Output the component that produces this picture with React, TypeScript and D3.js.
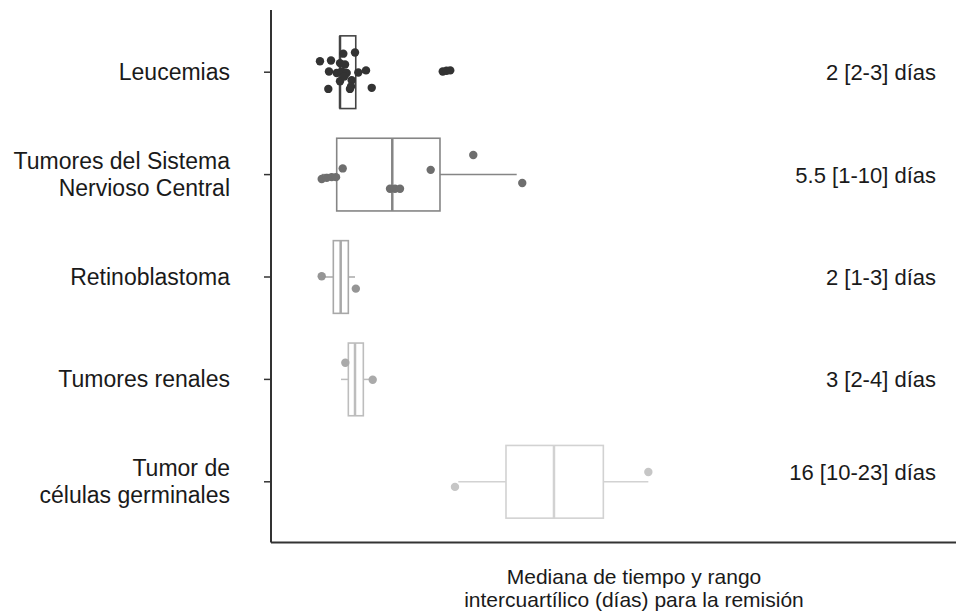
import React from "react";
import * as d3 from "d3";

// categories (top to bottom) and their labels
const categories = ["leu", "snc", "ret", "ren", "ger"];
const labelLines = [
  ["Leucemias"],
  ["Tumores del Sistema", "Nervioso Central"],
  ["Retinoblastoma"],
  ["Tumores renales"],
  ["Tumor de", "células germinales"],
];
const summaryText = [
  "2 [2-3] días",
  "5.5 [1-10] días",
  "2 [1-3] días",
  "3 [2-4] días",
  "16 [10-23] días",
];

// box statistics (días)
const q1 = [3.2, 2.76, 2.31, 4.31, 25.33];
const median = [3.2, 10.17, 3.29, 5.2, 31.73];
const q3 = [5.3, 16.53, 4.31, 6.31, 38.31];
const whiskerLo = [1.7, 0.76, 0.76, 3.33, 18.97];
const whiskerHi = [6.7, 26.76, 5.2, 7.56, 44.31];

// individual observations: value and vertical jitter (fraction of half box height)
const leuValues = [0.53, 2.0, 3.64, 5.2, 3.2, 3.87, 1.73, 2.76, 3.43, 4.09, 5.64, 6.67, 3.2, 4.76, 4.53, 4.67, 1.64, 7.43, 3.77, 16.9, 17.4, 17.9];
const leuJitter = [-0.3, -0.32, -0.51, -0.54, -0.25, -0.21, -0.02, 0.02, -0.02, 0.02, 0.01, -0.05, 0.25, 0.22, 0.46, 0.39, 0.46, 0.43, 0.12, -0.02, -0.04, -0.05];
const sncValues = [0.76, 1.43, 2.09, 2.67, 3.56, 9.87, 10.53, 11.2, 15.29, 20.97, 27.5];
const sncJitter = [0.12, 0.09, 0.07, 0.07, -0.17, 0.39, 0.39, 0.39, -0.13, -0.54, 0.23];
const retValues = [0.76, 5.31];
const retJitter = [-0.02, 0.32];
const renValues = [3.91, 7.56];
const renJitter = [-0.46, 0.01];
const gerValues = [18.53, 44.31];
const gerJitter = [0.14, -0.27];

const pointValues = [leuValues, sncValues, retValues, renValues, gerValues];
const pointJitter = [leuJitter, sncJitter, retJitter, renJitter, gerJitter];

const boxColors = ["#444444", "#858585", "#a8a8a8", "#bdbdbd", "#d2d2d2"];
const pointColors = ["#333333", "#6e6e6e", "#959595", "#aaaaaa", "#c6c6c6"];

export default function App() {
  const width = 956;
  const height = 611;
  const left = 271;
  const top = 10;
  const bottom = 542.5;
  const font = "'Liberation Sans', Arial, Helvetica, sans-serif";

  const x = d3.scaleLinear().domain([-6, 85.33]).range([left, width]);
  const y = d3.scaleBand().domain(categories).range([21, 533]).padding(0);
  const boxH = y.bandwidth() * 0.71;

  return (
    <svg
      width={width}
      height={height}
      style={{ position: "absolute", left: 0, top: 0, background: "#fff" }}
      fontFamily={font}
    >
      {/* axes */}
      <line x1={left} x2={left} y1={top} y2={bottom} stroke="#333" strokeWidth={2} />
      <line x1={left} x2={width} y1={bottom} y2={bottom} stroke="#333" strokeWidth={2} />

      {categories.map((c, i) => {
        const cy = (y(c) as number) + y.bandwidth() / 2;
        const lines = labelLines[i];
        const lh = 27;
        // the last summary sits level with the first label line
        const sy = i === categories.length - 1 ? cy - 10 : cy;
        return (
          <g key={c}>
            <line x1={left - 7} x2={left} y1={cy} y2={cy} stroke="#333" strokeWidth={1.5} />
            {lines.map((t, j) => (
              <text
                key={j}
                x={230}
                y={cy + (j - (lines.length - 1) / 2) * lh + 8}
                textAnchor="end"
                fontSize={23}
                fill="#1a1a1a"
              >
                {t}
              </text>
            ))}
            <text x={936} y={sy + 8} textAnchor="end" fontSize={22} fill="#1a1a1a">
              {summaryText[i]}
            </text>

            {/* whiskers */}
            <line x1={x(whiskerLo[i])} x2={x(q1[i])} y1={cy} y2={cy} stroke={boxColors[i]} strokeWidth={1.5} />
            <line x1={x(q3[i])} x2={x(whiskerHi[i])} y1={cy} y2={cy} stroke={boxColors[i]} strokeWidth={1.5} />
            {/* box */}
            <rect
              x={x(q1[i])}
              y={cy - boxH / 2}
              width={x(q3[i]) - x(q1[i])}
              height={boxH}
              fill="none"
              stroke={boxColors[i]}
              strokeWidth={1.6}
            />
            <line
              x1={x(median[i])}
              x2={x(median[i])}
              y1={cy - boxH / 2}
              y2={cy + boxH / 2}
              stroke={boxColors[i]}
              strokeWidth={2.5}
            />
            {/* points */}
            {pointValues[i].map((v, k) => (
              <circle
                key={k}
                cx={x(v)}
                cy={cy + pointJitter[i][k] * (boxH / 2)}
                r={4.2}
                fill={pointColors[i]}
              />
            ))}
          </g>
        );
      })}

      <text x={634} y={584} textAnchor="middle" fontSize={21} fill="#1a1a1a">
        Mediana de tiempo y rango
      </text>
      <text x={634} y={607} textAnchor="middle" fontSize={21} fill="#1a1a1a">
        intercuartílico (días) para la remisión
      </text>
    </svg>
  );
}
